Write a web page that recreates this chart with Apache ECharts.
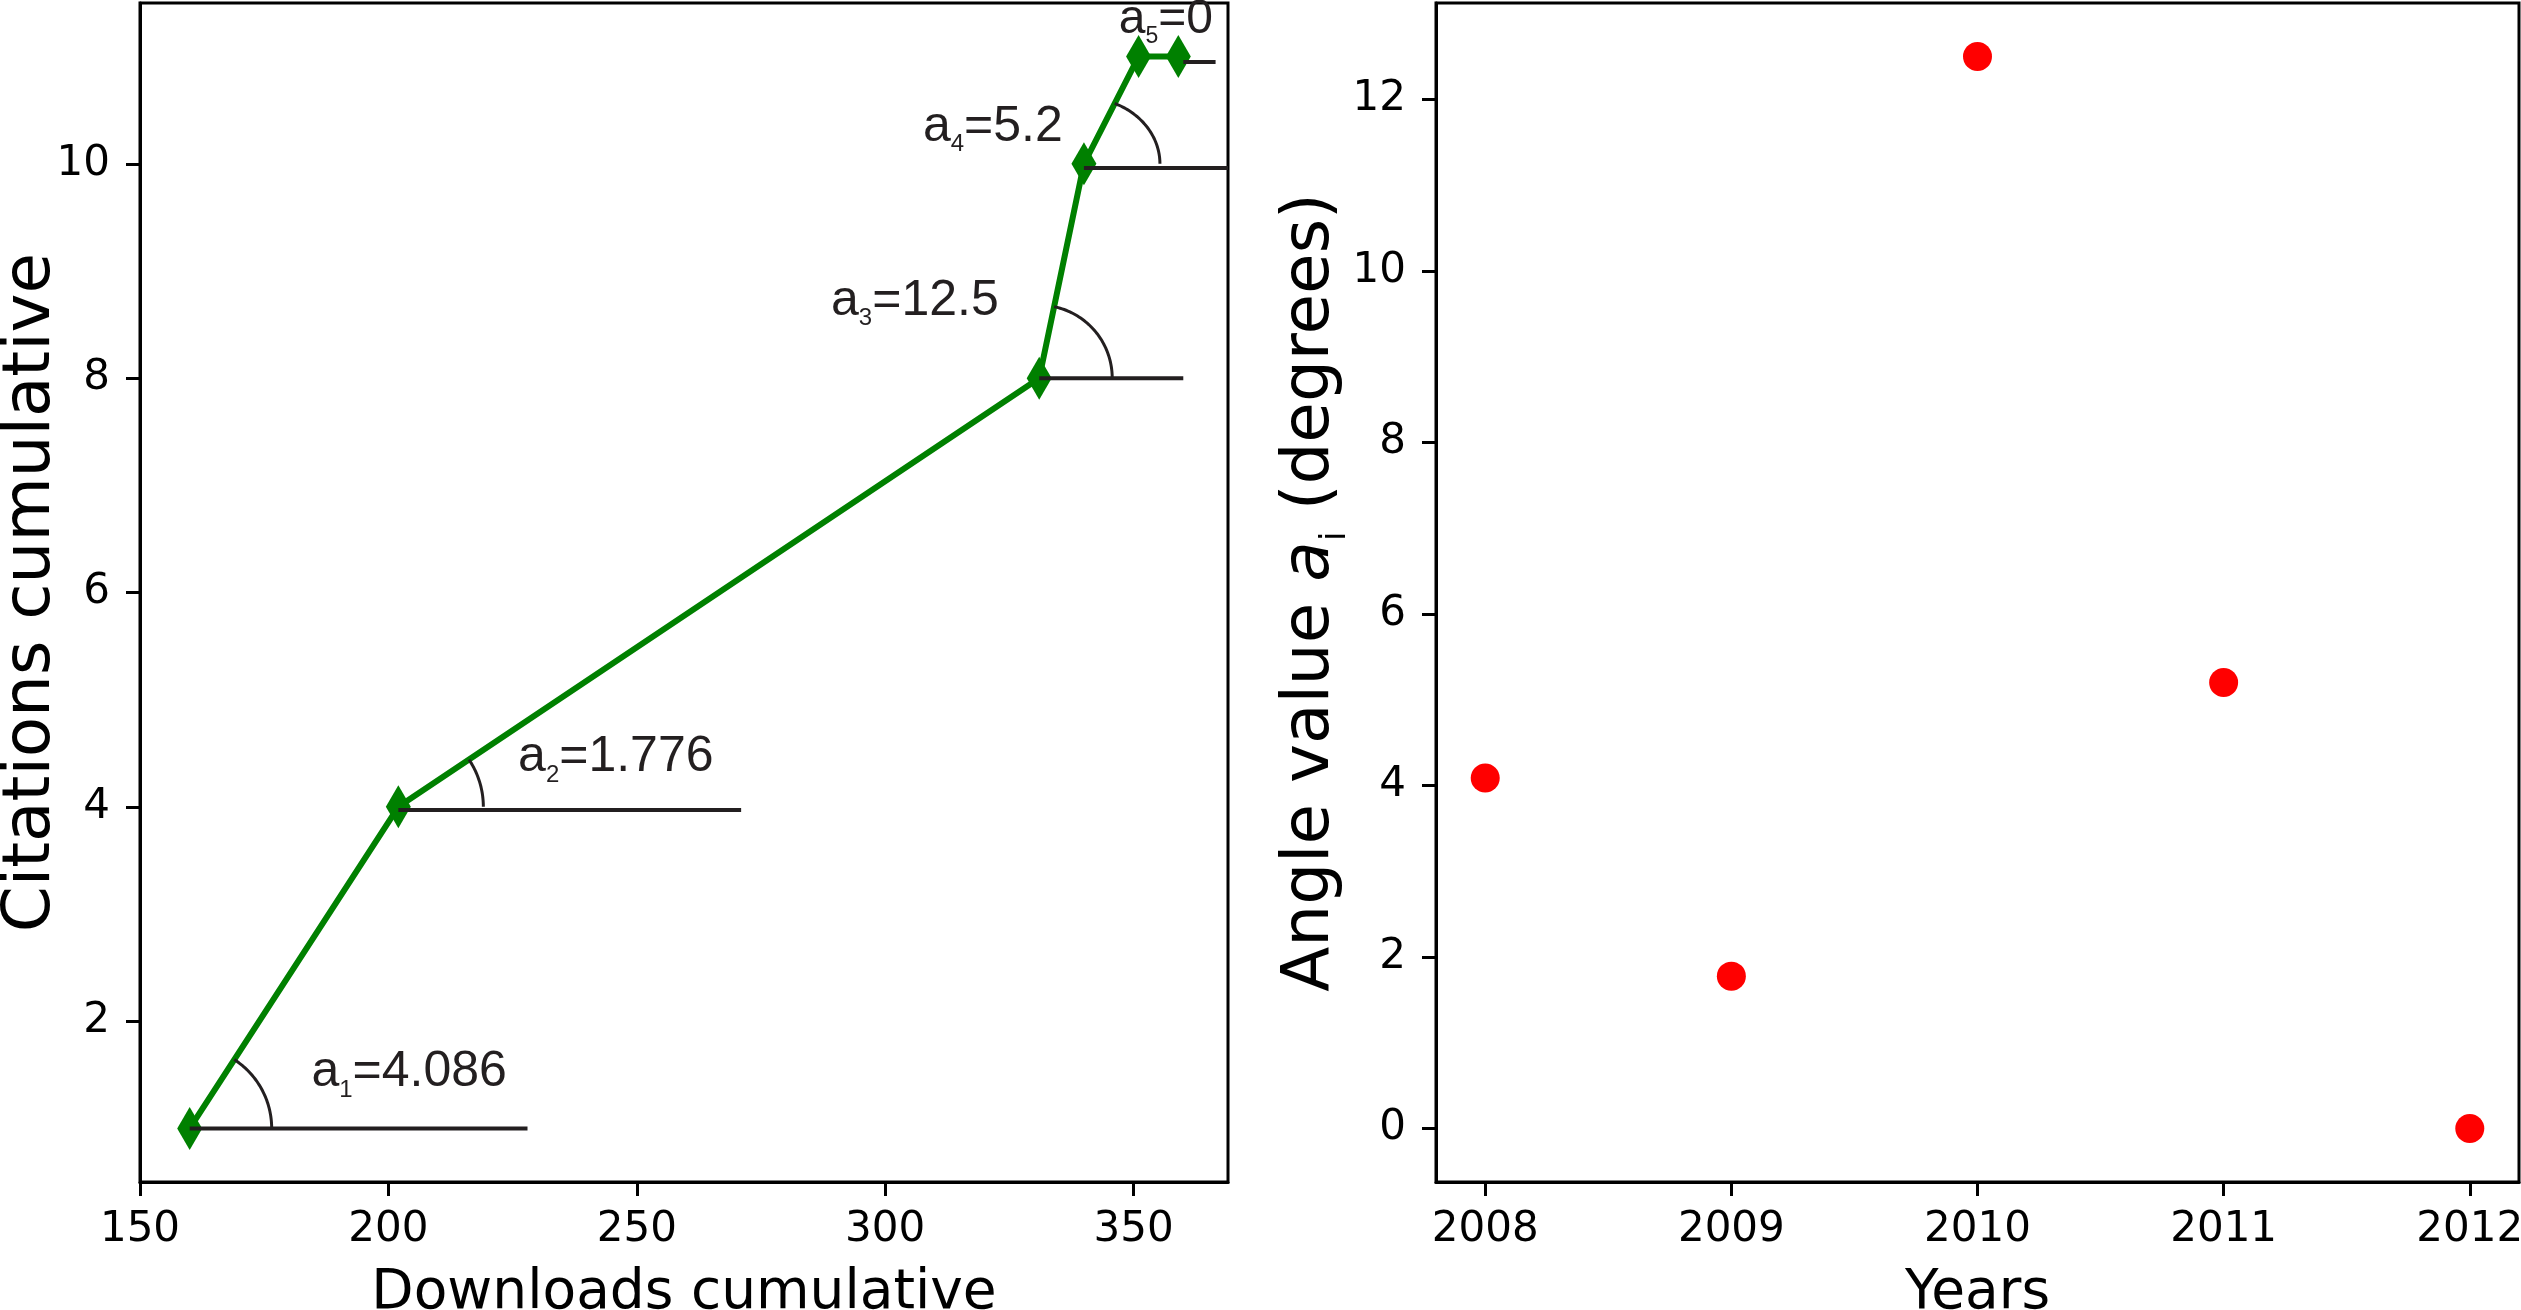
<!DOCTYPE html>
<html><head><meta charset="utf-8">
<script src="https://cdn.jsdelivr.net/npm/echarts@6/dist/echarts.min.js"></script>
<style>html,body{margin:0;padding:0;background:#fff}#c{width:2521px;height:1310px}</style>
</head><body><div id="c"></div>
<script>
// ---- data ----
const downloads = [160, 202, 331, 340, 351, 359];
const citations = [1, 4, 8, 10, 11, 11];
const years = [2008, 2009, 2010, 2011, 2012];
const angles = [4.086, 1.776, 12.5, 5.2, 0];
const leftXTicks = [150, 200, 250, 300, 350];
const leftYTicks = [2, 4, 6, 8, 10];
const rightXTicks = [2008, 2009, 2010, 2011, 2012];
const rightYTicks = [0, 2, 4, 6, 8, 10, 12];
// horizontal reference lines (data units)
const refLineY = [1, 3.97, 8, 9.96, 10.95];
const refLineX0 = [160, 202, 331, 340, 360];
const refLineX1 = [228, 271, 360, 369, 366.5];
// angle label anchors (data units: left end, baseline)
const labelX = [184.5, 226.1, 289.1, 307.6, 347.0];
const labelY = [1.36, 4.30, 8.56, 10.18, 11.19];

// ---- styles ----
const INK = '#231f20';
const ARC_RX = [82, 85, 73, 76];
const ARC_RY = [82, 85, 73, 66];
const LABEL_FS = [50, 50, 50, 50, 48];
const TICK_FONT = {fontFamily: 'DejaVu Sans', fontSize: 42, color: '#000'};

const chart = echarts.init(document.getElementById('c'), null, {renderer: 'canvas'});

function axisCommon(ticks, isX) {
  return {
    type: 'value',
    axisLine: {show: true, onZero: false, lineStyle: {color: '#000', width: 3}},
    splitLine: {show: false},
    axisTick: {show: true, inside: false, length: 14, lineStyle: {color: '#000', width: 3}, customValues: ticks},
    axisLabel: Object.assign({show: true, margin: isX ? 27 : 30, customValues: ticks, formatter: v => String(v)}, TICK_FONT),
    nameMoveOverlap: false
  };
}

const option = {
  animation: false,
  grid: [
    {left: 140, top: 3, width: 1088, height: 1179, show: true, borderColor: '#000', borderWidth: 3, backgroundColor: 'transparent', containLabel: false, outerBoundsMode: 'none'},
    {left: 1436, top: 3, width: 1083, height: 1179, show: true, borderColor: '#000', borderWidth: 3, backgroundColor: 'transparent', containLabel: false, outerBoundsMode: 'none'}
  ],
  xAxis: [
    Object.assign(axisCommon(leftXTicks, true), {gridIndex: 0, min: 150, max: 369,
      name: 'Downloads cumulative', nameLocation: 'middle', nameGap: 84,
      nameTextStyle: {fontFamily: 'DejaVu Sans', fontSize: 55, color: '#000'}}),
    Object.assign(axisCommon(rightXTicks, true), {gridIndex: 1, min: 2007.8, max: 2012.2,
      name: 'Years', nameLocation: 'middle', nameGap: 84,
      nameTextStyle: {fontFamily: 'DejaVu Sans', fontSize: 55, color: '#000'}})
  ],
  yAxis: [
    Object.assign(axisCommon(leftYTicks, false), {gridIndex: 0, min: 0.5, max: 11.5,
      name: 'Citations cumulative', nameLocation: 'middle', nameRotate: 90, nameGap: 75,
      nameTextStyle: {fontFamily: 'DejaVu Sans', fontSize: 66, color: '#000'}}),
    Object.assign(axisCommon(rightYTicks, false), {gridIndex: 1, min: -0.625, max: 13.125,
      name: '{n|Angle value }{it|a}{s|i}{n| (degrees)}', nameLocation: 'middle', nameRotate: 90, nameGap: 82,
      nameTextStyle: {fontFamily: 'DejaVu Sans', fontSize: 66, color: '#000',
        rich: {
          n: {fontFamily: 'DejaVu Sans', fontSize: 66, color: '#000'},
          it: {fontFamily: 'DejaVu Sans', fontSize: 66, fontStyle: 'italic', color: '#000'},
          s: {fontFamily: 'DejaVu Sans', fontSize: 36, color: '#000', padding: [50, 0, 0, 0]}
        }}})
  ],
  series: [
    {
      type: 'line', xAxisIndex: 0, yAxisIndex: 0, z: 2,
      data: downloads.map((d, i) => [d, citations[i]]),
      symbol: 'diamond', symbolSize: [25, 43],
      itemStyle: {color: '#008000', opacity: 1},
      lineStyle: {color: '#008000', width: 6},
      silent: true
    },
    {
      type: 'custom', xAxisIndex: 0, yAxisIndex: 0, z: 3, clip: true, silent: true,
      data: refLineY.map((y, i) => [refLineX0[i], y, refLineX1[i]]),
      encode: {x: [0, 2], y: 1},
      renderItem(params, api) {
        const p0 = api.coord([api.value(0), api.value(1)]);
        const p1 = api.coord([api.value(2), api.value(1)]);
        return {type: 'line', shape: {x1: p0[0], y1: p0[1], x2: p1[0], y2: p1[1]},
          style: {stroke: INK, lineWidth: 4}};
      }
    },
    {
      type: 'custom', xAxisIndex: 0, yAxisIndex: 0, z: 3, clip: true, silent: true,
      data: angles.slice(0, 4).map((a, i) => [downloads[i], citations[i]]),
      encode: {x: 0, y: 1},
      renderItem(params, api) {
        const i = params.dataIndex;
        const a = api.coord([downloads[i], citations[i]]);
        const b = api.coord([downloads[i + 1], citations[i + 1]]);
        const dir = Math.atan2(a[1] - b[1], b[0] - a[0]);
        const rx = ARC_RX[i], ry = ARC_RY[i];
        const tEnd = Math.atan2(rx * Math.sin(dir), ry * Math.cos(dir));
        const pts = [];
        for (let k = 0; k <= 48; k++) {
          const t = tEnd * k / 48;
          pts.push([a[0] + rx * Math.cos(t), a[1] - ry * Math.sin(t)]);
        }
        return {type: 'polyline', shape: {points: pts}, style: {stroke: INK, lineWidth: 3, fill: null}};
      }
    },
    {
      type: 'custom', xAxisIndex: 0, yAxisIndex: 0, z: 4, clip: false, silent: true,
      data: labelX.map((x, i) => [x, labelY[i]]),
      encode: {x: 0, y: 1},
      renderItem(params, api) {
        const i = params.dataIndex;
        const p = api.coord([labelX[i], labelY[i]]);
        const fs = LABEL_FS[i];
        const sub = Math.round(fs * 0.48);
        return {
          type: 'text', x: p[0], y: p[1] - 0.346 * fs,
          style: {
            text: '{m|a}{s|' + (i + 1) + '}{m|=' + angles[i] + '}',
            align: 'left', verticalAlign: 'middle',
            rich: {
              m: {fontSize: fs, fontFamily: 'Liberation Sans', fill: INK, lineHeight: fs},
              s: {fontSize: sub, fontFamily: 'Liberation Sans', fill: INK, lineHeight: sub, padding: [Math.round(fs * 0.7), 0, 0, 0]}
            }
          }
        };
      }
    },
    {
      type: 'scatter', xAxisIndex: 1, yAxisIndex: 1, z: 2, silent: true,
      data: years.map((y, i) => [y, angles[i]]),
      symbol: 'circle', symbolSize: 29,
      itemStyle: {color: '#ff0000', opacity: 1}
    }
  ]
};
chart.setOption(option);
</script>
</body></html>
